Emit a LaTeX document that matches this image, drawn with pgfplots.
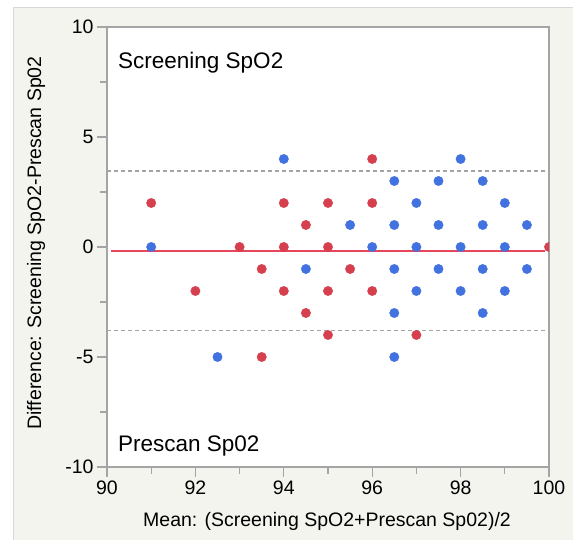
\documentclass[border=0pt]{standalone}
\usepackage{fontspec}
\setmainfont{Liberation Sans}
\usepackage{pgfplots}
\pgfplotsset{compat=1.18}
\definecolor{panelbg}{HTML}{F4F4EF}
\definecolor{panelln}{HTML}{D8D8D8}
\definecolor{frame}{HTML}{A4A4A4}
\definecolor{ptred}{HTML}{D6404E}
\definecolor{ptblue}{HTML}{4272E0}
\definecolor{meanred}{HTML}{E8465A}
\begin{document}
\begin{tikzpicture}[x=1pt,y=1pt]
\fill[white] (0,0) rectangle (573,540);
\fill[panelbg] (13,0) rectangle (573,532);
\draw[panelln,line width=1pt] (13,0) -- (13,532) -- (573,532);
\begin{axis}[
  at={(107pt,73pt)}, anchor=south west,
  scale only axis, width=442pt, height=440pt,
  xmin=90, xmax=100, ymin=-10, ymax=10,
  xtick={90,92,...,100}, ytick={-10,-5,0,5,10},
  minor xtick={91,93,...,99}, minor ytick={-7.5,-2.5,2.5,7.5},
  tick align=outside, major tick length=10pt, minor tick length=7pt,
  every tick/.style={frame, line width=1.2pt},
  xtick pos=bottom, ytick pos=left,
  axis line style={frame, line width=1.5pt},
  axis background/.style={fill=white},
  /pgf/number format/assume math mode=true,
  ticklabel style={font=\fontsize{19.5}{21}\selectfont},
  clip marker paths=true,
]
\addplot[frame, line width=1.3pt, dash pattern=on 4pt off 3pt, forget plot] coordinates {(90,3.45) (100,3.45)};
\addplot[frame, line width=1.3pt, dash pattern=on 4pt off 3pt, forget plot] coordinates {(90,-3.8) (100,-3.8)};
\addplot[meanred, line width=1.8pt, forget plot] coordinates {(90.1,-0.18) (99.9,-0.18)};
\addplot[only marks, mark=*, mark size=4.7pt, ptblue, mark options={draw=ptblue, fill=ptblue}] coordinates {
(91,0) (92.5,-5) (94,4) (94.5,-1) (95.5,1) (96,0)
(96.5,3) (96.5,1) (96.5,-1) (96.5,-3) (96.5,-5)
(97,2) (97,0) (97,-2) (97.5,3) (97.5,1) (97.5,-1)
(98,4) (98,0) (98,-2) (98.5,3) (98.5,1) (98.5,-1) (98.5,-3)
(99,2) (99,0) (99,-2) (99.5,1) (99.5,-1)
};
\addplot[only marks, mark=*, mark size=4.7pt, ptred, mark options={draw=ptred, fill=ptred}] coordinates {
(91,2) (92,-2) (93,0) (93.5,-1) (93.5,-5)
(94,2) (94,0) (94,-2) (94.5,1) (94.5,-3)
(95,2) (95,0) (95,-2) (95,-4) (95.5,-1)
(96,4) (96,2) (96,-2) (97,-4) (100,0)
};
\end{axis}
\node[anchor=base west, inner sep=0pt, font=\fontsize{22.5}{24}\selectfont] at (118,471) {Screening SpO2};
\node[anchor=base west, inner sep=0pt, font=\fontsize{22.5}{24}\selectfont] at (118,88) {Prescan Sp02};
\node[anchor=center, inner sep=0pt, font=\fontsize{19.5}{21}\selectfont] at (327,19) {Mean: (Screening SpO2+Prescan Sp02)/2};
\node[anchor=center, inner sep=0pt, rotate=90, font=\fontsize{19.5}{21}\selectfont] at (36,297) {Difference: Screening SpO2-Prescan Sp02};
\pgfresetboundingbox
\useasboundingbox (0,0) rectangle (573,540);
\end{tikzpicture}
\end{document}
